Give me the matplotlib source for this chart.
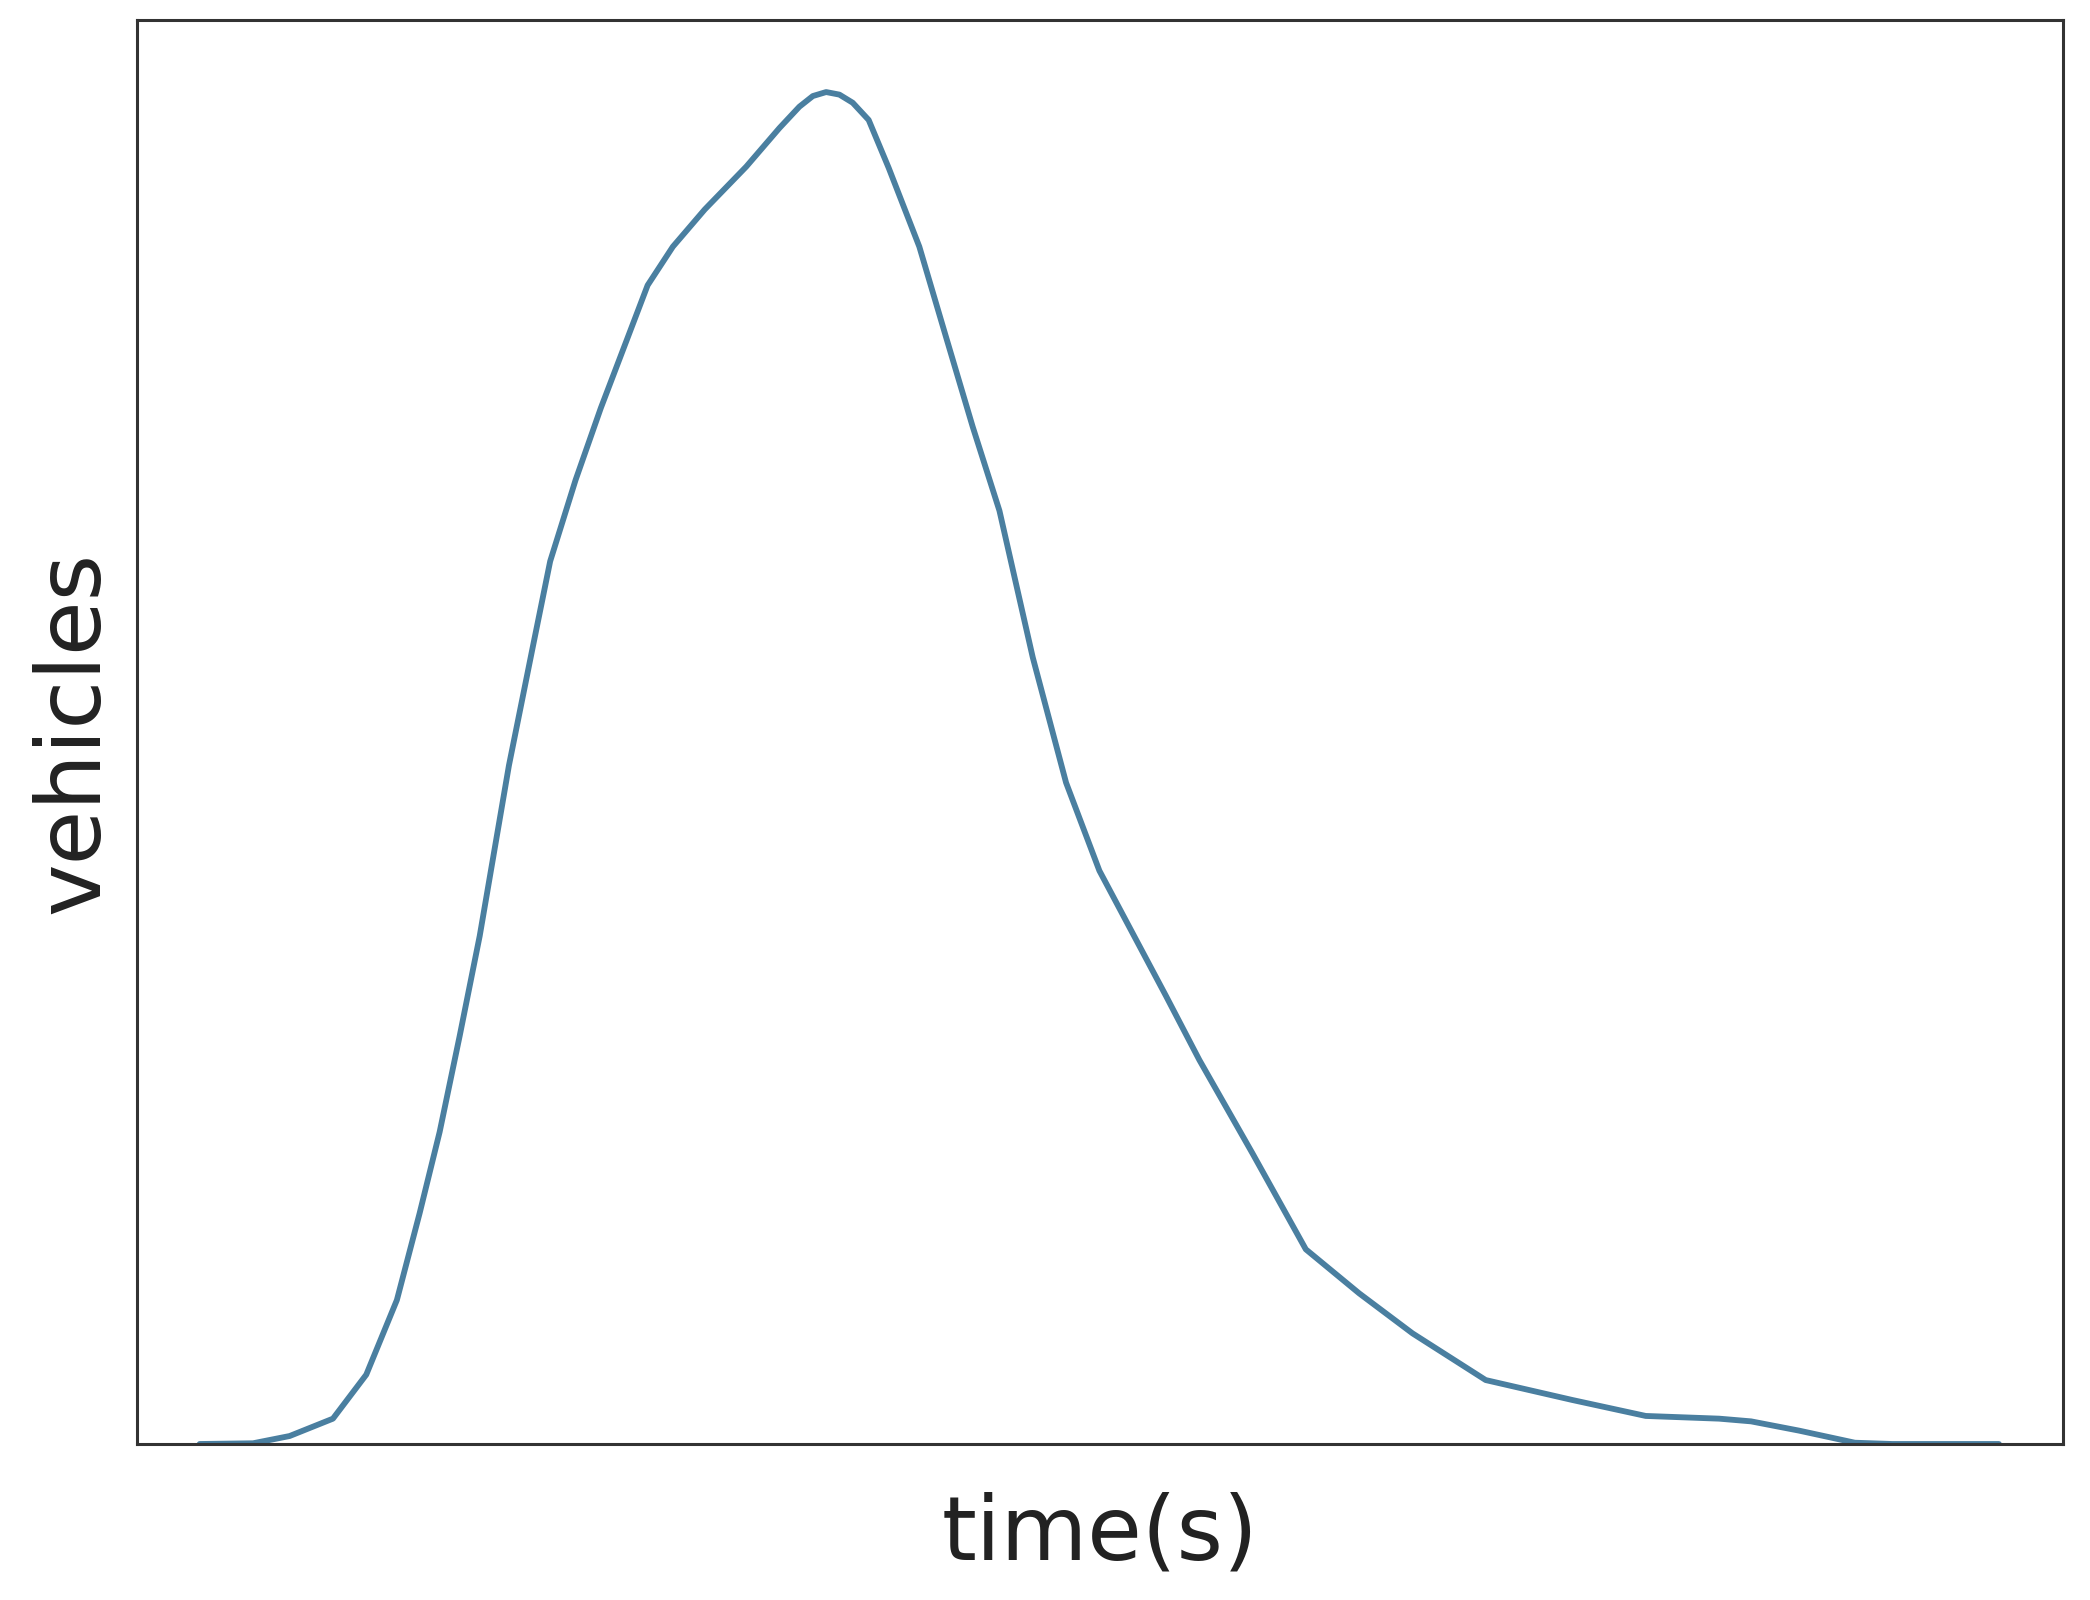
import matplotlib
matplotlib.use("Agg")
import matplotlib.pyplot as plt

# Data (arbitrary units; axes have no ticks)
time_s = [3.25, 6.02, 7.92, 10.17, 11.90, 13.49, 14.67, 15.71, 16.75, 17.79,
          19.31, 20.55, 21.45, 22.77, 24.08, 25.40, 26.51, 27.82, 29.48, 31.63,
          33.36, 34.39, 35.09, 35.78, 36.47, 37.16, 37.99, 39.03, 40.62, 42.01,
          43.39, 44.78, 46.51, 48.24, 49.97, 51.70, 53.43, 55.16, 57.92, 60.69,
          63.46, 66.23, 70.03, 74.53, 78.34, 82.15, 83.81, 86.30, 89.20, 91.14,
          96.68]
vehicles = [0.0, 0.05, 0.56, 1.78, 4.87, 10.11, 16.20, 21.91, 28.65, 35.67,
            47.66, 55.99, 61.99, 67.70, 72.75, 77.43, 81.37, 84.08, 86.70, 89.70,
            92.42, 93.91, 94.66, 94.94, 94.76, 94.19, 92.98, 89.61, 84.08, 77.72,
            71.44, 65.54, 55.24, 46.44, 40.26, 35.86, 31.46, 26.97, 20.41, 13.67,
            10.58, 7.77, 4.49, 3.09, 1.97, 1.78, 1.59, 0.94, 0.09, 0.0,
            0.0]

fig = plt.figure(figsize=(20.9, 16), dpi=100)
ax = fig.add_axes([0.0656, 0.0975, 0.9214, 0.89])
ax.plot(time_s, vehicles, color="#4a7fa0", linewidth=4.2,
        solid_joinstyle="round", solid_capstyle="round")
ax.set_xlim(0, 100)
ax.set_ylim(0, 100)
ax.set_xticks([])
ax.set_yticks([])
for sp in ax.spines.values():
    sp.set_color("#333333")
    sp.set_linewidth(2.2)
ax.set_xlabel("time(s)", fontsize=64, color="#222222", labelpad=34)
ax.set_ylabel("vehicles", fontsize=64, color="#222222", labelpad=14)
fig.savefig("out.png", dpi=100, facecolor="white")
